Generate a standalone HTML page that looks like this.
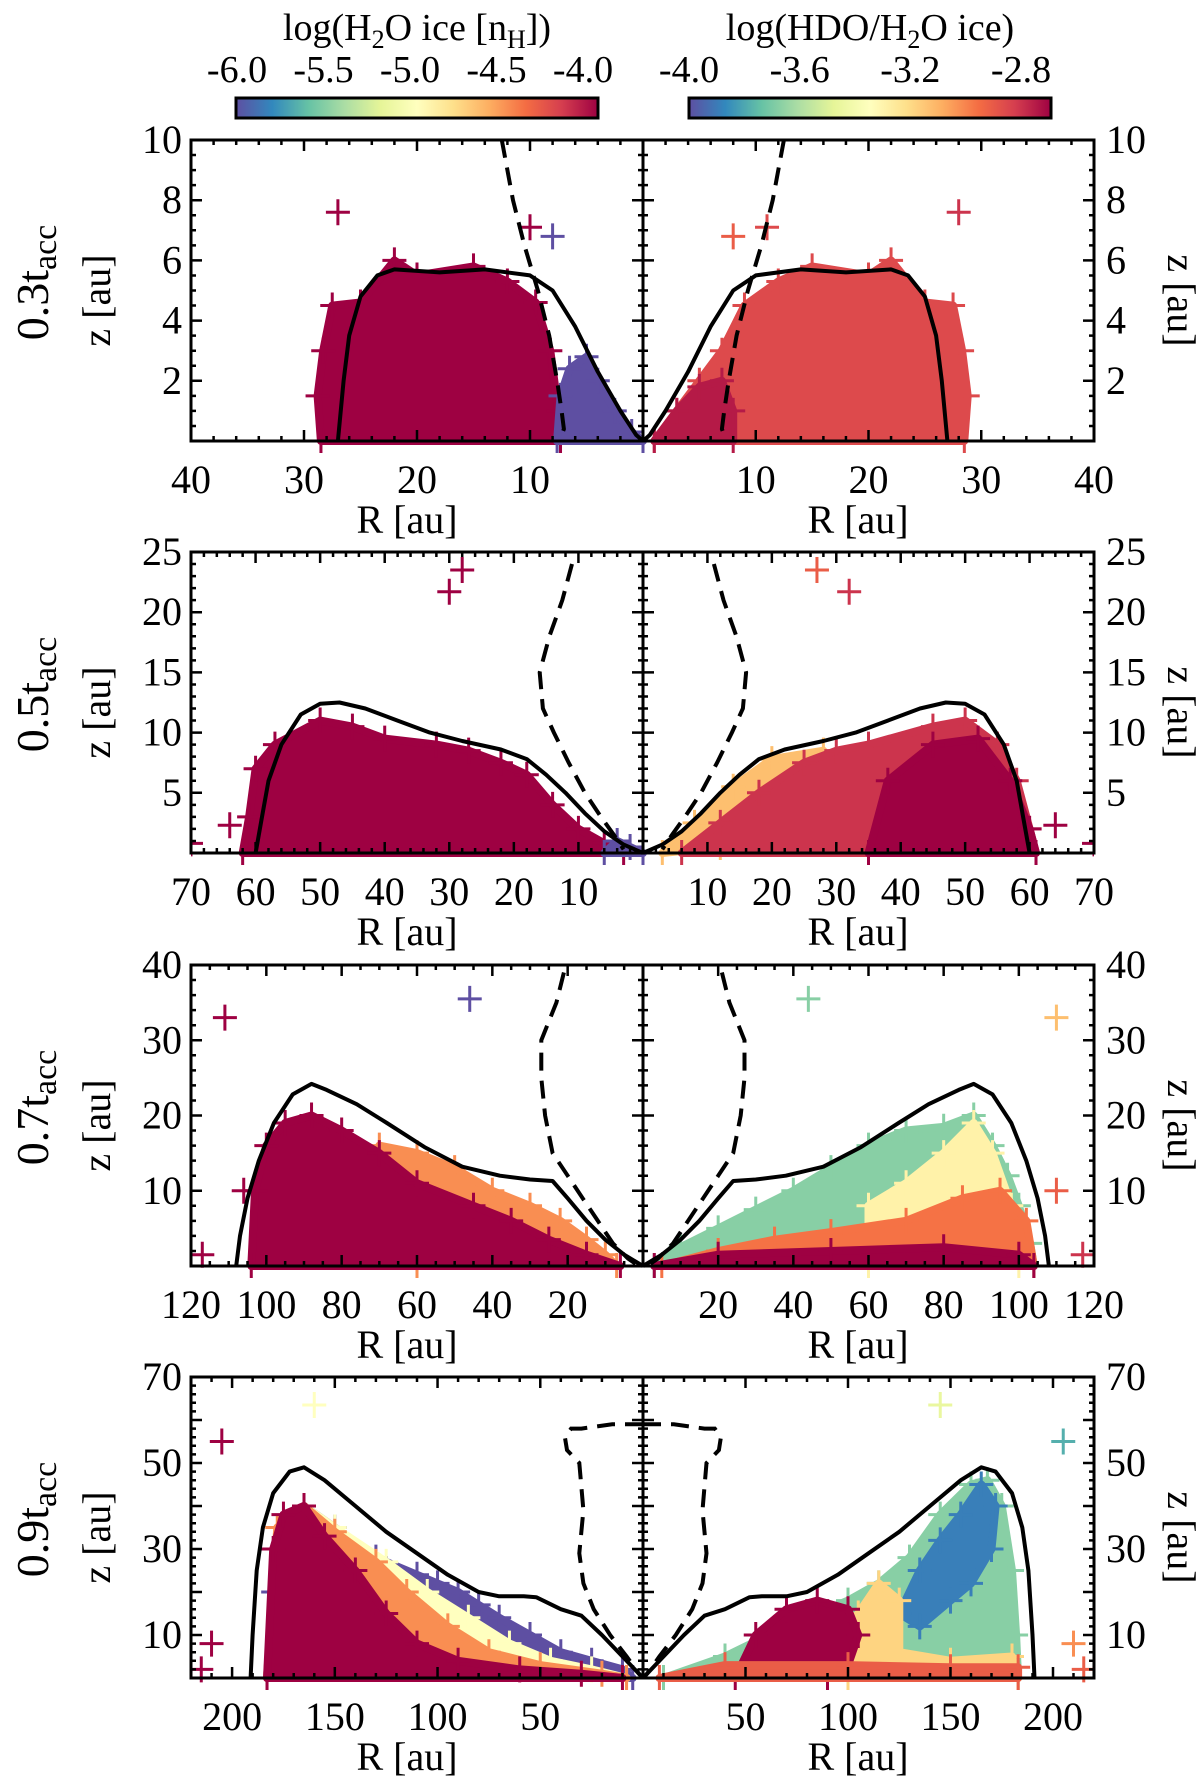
<!DOCTYPE html>
<html><head><meta charset="utf-8">
<style>
html,body{margin:0;padding:0;background:#fff;}
svg{display:block;font-family:"Liberation Serif",serif;}
</style></head>
<body>
<svg id="fig" width="1200" height="1784" viewBox="0 0 1200 1784" xmlns="http://www.w3.org/2000/svg">
  <defs>
    <linearGradient id="spec" x1="0" x2="1" y1="0" y2="0">
      <stop offset="0" stop-color="#5e4fa2"/><stop offset="0.1" stop-color="#3288bd"/>
      <stop offset="0.2" stop-color="#66c2a5"/><stop offset="0.3" stop-color="#abdda4"/>
      <stop offset="0.4" stop-color="#e6f598"/><stop offset="0.5" stop-color="#ffffbf"/>
      <stop offset="0.6" stop-color="#fee08b"/><stop offset="0.7" stop-color="#fdae61"/>
      <stop offset="0.8" stop-color="#f46d43"/><stop offset="0.9" stop-color="#d53e4f"/>
      <stop offset="1" stop-color="#9e0142"/>
    </linearGradient>
  </defs>
  <g>
    <text x="417" y="40" font-size="38" text-anchor="middle">log(H<tspan font-size="26" dy="8">2</tspan><tspan dy="-8">O ice [n</tspan><tspan font-size="26" dy="8">H</tspan><tspan dy="-8">])</tspan></text>
    <rect x="236" y="98" width="362" height="20" fill="url(#spec)" stroke="#000" stroke-width="3"/>
  </g>
  <g>
    <text x="870" y="40" font-size="38" text-anchor="middle">log(HDO/H<tspan font-size="26" dy="8">2</tspan><tspan dy="-8">O ice)</tspan></text>
    <rect x="689" y="98" width="362" height="20" fill="url(#spec)" stroke="#000" stroke-width="3"/>
  </g>
  <g id="cbticks"></g>
  <g id="panels"></g>
</svg>
<script>
// ---------- colorbar tick labels ----------
const cbLeftTicks = ["-6.0","-5.5","-5.0","-4.5","-4.0"];
const cbLeftVals = [-6.0,-5.5,-5.0,-4.5,-4.0];
const cbRightTicks = ["-4.0","-3.6","-3.2","-2.8"];
const cbRightVals = [-4.0,-3.6,-3.2,-2.8];

// ---------- panel meta ----------
const panelLabels = ["0.3","0.5","0.7","0.9"];
const panelXMax = [40,70,120,220];
const panelYMax = [10,25,40,70];
const xTickVals1 = [40,30,20,10];
const xTickVals2 = [70,60,50,40,30,20,10];
const xTickVals3 = [120,100,80,60,40,20];
const xTickVals4 = [200,150,100,50];
const yTickVals1 = [2,4,6,8,10];
const yTickVals2 = [5,10,15,20,25];
const yTickVals3 = [10,20,30,40];
const yTickVals4 = [10,30,50,70];

// ---------- curves [R, z] ----------
const solid1 = [[27,0],[26.5,2],[26,3.5],[25,4.8],[23.5,5.5],[22,5.7],[18,5.6],[14,5.7],[10,5.5],[8,5],[6,3.8],[4,2.3],[2,1],[0.6,0.2],[0,0]];
const dashed1 = [[12.5,10],[11.5,8],[10.5,6.5],[9.3,5],[8.3,3.5],[7.6,2],[7.2,1],[7,0.4],[7.4,0]];
const solid2 = [[60,0],[59,3],[58,6],[56,9],[53,11.5],[50,12.4],[47,12.5],[43,12],[38,11],[33,10],[28,9.3],[22,8.6],[18,7.8],[15,6.5],[12,5],[9,3.3],[6,1.8],[3,0.7],[0,0]];
const dashed2 = [[11,24],[12.5,21],[14.5,18],[16,15],[15.5,12],[13.8,10],[11.5,7.5],[9,5],[6.5,3],[4.5,1.5],[3,0.3]];
const solid3 = [[108,0],[107,4],[105,9],[102,14],[98,19],[93,22.8],[88,24.2],[84,23.4],[76,21.5],[68,19],[58,15.8],[48,13.2],[38,12],[30,11.5],[24,11.3],[20,9],[15,6],[10,3.5],[5,1.5],[0,0]];
const dashed3 = [[21,39],[23,35],[27,30],[27,25],[26,20],[24,15],[20,12],[16,9],[12,6],[8,3],[4,1],[2,0.3]];
const solid4 = [[191,0],[190,10],[188,25],[185,35],[180,43],[172,48],[165,49],[155,46],[140,40],[125,34],[110,29],[95,24],[80,20],[70,19],[58,19],[52,18.8],[40,16],[30,14.5],[20,10],[10,5],[0,0]];
const dashed4 = [[0,59],[15,59],[30,58],[35,58],[38,56],[37,53],[31,50],[29,39],[31,29],[29,22],[24,16],[16,10],[8,5],[2,1],[0,0]];

// ---------- clouds: [value, [[R,z],...]] ----------
const cloudsL1 = [
  [-4.0, [[28.5,0],[28.8,1.5],[28.3,3],[27.5,4.5],[25,4.6],[22,6],[20,5.5],[15,5.8],[12,5.3],[9.5,4.6],[8.2,3],[7.5,1],[7.3,0]]],
  [-6.0, [[7.6,0],[7.3,1.5],[6.5,2.4],[5,2.8],[4,2],[2.5,1],[1,0.3],[0,0]]]
];
const cloudsR1 = [
  [-2.95, [[1,0],[3,1],[5,2],[7,3],[9,4.5],[12,5.3],[15,5.8],[20,5.5],[22,6],[25,4.6],[27.5,4.5],[28.3,3],[28.8,1.5],[28.5,0]]],
  [-2.85, [[1,0],[3,1],[5,1.8],[7,2],[8,1],[8,0]]]
];
const cloudsL2 = [
  [-4.0, [[62,0],[61,3],[60,7],[57,9],[50,11],[45,10.5],[40,9.5],[32,9],[27,8.5],[22,7.5],[18,6.5],[14,4],[10,2],[6,0.8],[3,0]]],
  [-6.0, [[6,0],[4,1],[2,0.5],[0,0]]]
];
const cloudsR2 = [
  [-3.2, [[3,0],[8,2.5],[14,5.5],[20,7.8],[28,8.5],[28,3],[12,0.5]]],
  [-2.9, [[6,0],[12,2.5],[18,5],[25,7.5],[30,8.5],[35,9],[45,10.5],[50,11],[55,9],[58,6],[60,2],[61,0]]],
  [-2.8, [[35,0],[38,6],[45,9],[52,9.5],[57,6],[60,2],[61,0]]]
];
const cloudsL3 = [
  [-4.5, [[70,16],[60,15],[50,13],[40,10],[30,8],[22,6],[15,3.5],[10,1.5],[7,0],[60,0]]],
  [-4.0, [[104,0],[103,10],[100,16],[95,19],[88,20],[80,18],[70,15],[60,11],[45,8],[35,6],[25,3.5],[15,1.5],[6,0]]]
];
const cloudsR3 = [
  [-3.7, [[3,0],[10,2.5],[20,5],[30,7.5],[40,10],[50,13],[60,16],[70,18],[80,18.5],[88,20],[93,16],[97,12],[100,8],[103,3],[104,0]]],
  [-3.35, [[60,8],[70,11],[80,15],[88,19],[93,15],[98,8],[100,3],[100,0],[60,0]]],
  [-3.05, [[5,0],[20,2],[35,3.5],[50,4.5],[70,6],[85,9],[95,10],[102,6],[104,0]]],
  [-2.8, [[3,0],[20,1.5],[50,2],[80,2.5],[100,1.5],[104,0]]]
];
const cloudsL4 = [
  [-6.0, [[183,0],[180,20],[175,35],[165,40],[150,35],[130,28],[110,24],[100,22],[90,20],[80,17],[70,14],[55,10],[40,6],[25,4],[10,2],[5,0]]],
  [-5.0, [[183,0],[178,35],[165,40],[150,35],[125,27],[105,20],[85,14],[65,8],[45,4],[25,2],[8,0]]],
  [-4.5, [[183,0],[178,35],[165,40],[150,34],[130,27],[115,20],[95,12],[75,6],[50,3],[20,1],[8,0]]],
  [-4.0, [[183,0],[180,30],[175,38],[165,40],[155,33],[140,25],[125,15],[110,8],[90,4],[60,2],[30,1],[10,0]]]
];
const cloudsR4 = [
  [-3.7, [[10,0],[40,5],[70,12],[100,18],[115,22],[130,28],[145,38],[160,45],[168,46],[175,40],[180,25],[182,10],[183,0]]],
  [-3.9, [[125,15],[135,25],[145,32],[155,38],[165,45],[172,40],[170,30],[160,22],[150,18],[135,12]]],
  [-3.25, [[100,0],[105,15],[115,22],[125,18],[125,6],[150,4],[180,5],[183,0]]],
  [-2.8, [[45,0],[55,10],[70,16],[85,18],[100,16],[105,10],[100,3],[90,0]]],
  [-3.0, [[8,0],[40,3],[100,3],[150,2.5],[183,2.5],[183,0]]]
];

// ---------- outlier crosses: [R, z, value] ----------
const outL1 = [[27,7.6,-4.0],[10,7.1,-4.0],[8,6.8,-6.0]];
const outR1 = [[8,6.8,-3.0],[11,7.1,-2.95],[28,7.6,-2.9]];
const outL2 = [[30,21.7,-4.0],[28,23.5,-4.0],[64,2.3,-4.0],[70,0.8,-4.0]];
const outR2 = [[27,23.5,-3.0],[32,21.7,-2.9],[64,2.3,-2.8],[70,0.8,-2.8]];
const outL3 = [[111,33,-4.0],[46,35.5,-6.0],[117,1.5,-4.0],[106,10,-4.0]];
const outR3 = [[44,35.5,-3.7],[110,33,-3.2],[117,1.5,-2.9],[110,10,-3.0]];
const outL4 = [[205,55,-4.0],[160,63.5,-5.0],[210,8,-4.0],[215,2,-4.0]];
const outR4 = [[145,63.5,-3.5],[205,55,-3.8],[210,8,-3.1],[215,2,-3.0]];

// ---------- geometry ----------
const NS = "http://www.w3.org/2000/svg";
const AX_L = 191, AX_C = 643, AX_R = 1094, PH = 301;
const panelTops = [140, 552, 965, 1377];
const specStops = ["#5e4fa2","#3288bd","#66c2a5","#abdda4","#e6f598","#ffffbf","#fee08b","#fdae61","#f46d43","#d53e4f","#9e0142"];

function hexToRgb(h){return [parseInt(h.substr(1,2),16),parseInt(h.substr(3,2),16),parseInt(h.substr(5,2),16)];}
function cmap(t){
  t=Math.max(0,Math.min(1,t));
  const f=t*(specStops.length-1), i=Math.min(Math.floor(f),specStops.length-2), u=f-i;
  const a=hexToRgb(specStops[i]), b=hexToRgb(specStops[i+1]);
  return "rgb("+[0,1,2].map(k=>Math.round(a[k]+(b[k]-a[k])*u)).join(",")+")";
}
function colL(v){return cmap((v+6)/2);}
function colR(v){return cmap((v+4)/1.2);}
function mk(tag, attrs, parent){
  const e=document.createElementNS(NS,tag);
  for(const k in attrs) e.setAttribute(k, attrs[k]);
  parent.appendChild(e); return e;
}

// colorbar ticks
const cbg=document.getElementById('cbticks');
cbLeftVals.forEach((v,i)=>{
  const t=mk('text',{x:237+(v+6)/2*346,y:82,'font-size':38,'text-anchor':'middle'},cbg);
  
  
  t.textContent=cbLeftTicks[i];
});
cbRightVals.forEach((v,i)=>{
  const t=mk('text',{x:689+(v+4)/1.2*332,y:82,'font-size':38,'text-anchor':'middle'},cbg);
  
  
  t.textContent=cbRightTicks[i];
});

const allSolid=[solid1,solid2,solid3,solid4];
const allDashed=[dashed1,dashed2,dashed3,dashed4];
const allCL=[cloudsL1,cloudsL2,cloudsL3,cloudsL4];
const allCR=[cloudsR1,cloudsR2,cloudsR3,cloudsR4];
const allOL=[outL1,outL2,outL3,outL4];
const allOR=[outR1,outR2,outR3,outR4];
const allXT=[xTickVals1,xTickVals2,xTickVals3,xTickVals4];
const allYT=[yTickVals1,yTickVals2,yTickVals3,yTickVals4];
const yMinorStep=[0.5,1,2,2];
const xMinorStep=[2,2,5,10];
const yMajorStep=[2,5,10,10];

const root=document.getElementById('panels');
for(let p=0;p<4;p++){
  const top=panelTops[p], bot=top+PH, xm=panelXMax[p], ym=panelYMax[p];
  const sxL=R=>AX_C-R*(AX_C-AX_L)/xm;
  const sxR=R=>AX_C+R*(AX_R-AX_C)/xm;
  const sy=z=>bot-z*PH/ym;
  const g=mk('g',{},root);
  
  
  const clipId='clip'+p;
  const cp=mk('clipPath',{id:clipId},g);
  mk('rect',{x:AX_L,y:top,width:AX_R-AX_L,height:PH+12},cp);
  const data=mk('g',{'clip-path':'url(#'+clipId+')'},g);
  // clouds
  [[allCL[p],sxL,colL,'left'],[allCR[p],sxR,colR,'right']].forEach(([cl,sx,cf,side])=>{
    cl.forEach(c=>{
      const pts=c[1].map(q=>sx(q[0]).toFixed(1)+","+sy(q[1]).toFixed(1)).join(" ");
      const poly=mk('polygon',{points:pts,fill:cf(c[0]),stroke:cf(c[0]),'stroke-width':8,'stroke-linejoin':'round'},data);
      
      
      // fuzzy edge crosses at each vertex
      let d='';
      c[1].forEach(q=>{const x=sx(q[0]),y=sy(q[1]);d+=`M${x-12},${y}H${x+12}M${x},${y-13}V${y+13}`;});
      const fz=mk('path',{d:d,stroke:cf(c[0]),'stroke-width':3,fill:'none'},data);
      
      
    });
  });
  // outliers
  [[allOL[p],sxL,colL,'left'],[allOR[p],sxR,colR,'right']].forEach(([ol,sx,cf,side])=>{
    ol.forEach(o=>{
      const x=sx(o[0]), y=sy(o[1]);
      const c=mk('path',{d:`M${x-12},${y}H${x+12}M${x},${y-13}V${y+13}`,stroke:cf(o[2]),'stroke-width':3,fill:'none'},data);
      
      
    });
  });
  // curves
  [sxL,sxR].forEach((sx,si)=>{
    const side=si?'right':'left';
    const s=mk('polyline',{points:allSolid[p].map(q=>sx(q[0]).toFixed(1)+","+sy(q[1]).toFixed(1)).join(" "),fill:'none',stroke:'#000','stroke-width':4,'stroke-linejoin':'round'},data);
    
    
    const d=mk('polyline',{points:allDashed[p].map(q=>sx(q[0]).toFixed(1)+","+sy(q[1]).toFixed(1)).join(" "),fill:'none',stroke:'#000','stroke-width':4,'stroke-dasharray':'18,10'},data);
    
    
  });
  // frame
  const fr=mk('rect',{x:AX_L,y:top,width:AX_R-AX_L,height:PH,fill:'none',stroke:'#000','stroke-width':3},g);
  
  
  const cl=mk('line',{x1:AX_C,x2:AX_C,y1:top,y2:bot,stroke:'#000','stroke-width':3},g);
  
  
  // ticks
  let td='';
  for(let z=yMinorStep[p]; z<ym-1e-6; z+=yMinorStep[p]){
    const maj=Math.abs(z/yMajorStep[p]-Math.round(z/yMajorStep[p]))<1e-6;
    const L=maj?11:5, y=sy(z);
    td+=`M${AX_L},${y}h${L}M${AX_R},${y}h${-L}M${AX_C-L},${y}h${2*L}`;
  }
  for(let R=xMinorStep[p]; R<xm-1e-6; R+=xMinorStep[p]){
    const maj=Math.abs(R/allXT[p][allXT[p].length-1]-Math.round(R/allXT[p][allXT[p].length-1]))<1e-6;
    const L=maj?11:5;
    [sxL(R),sxR(R)].forEach(x=>{td+=`M${x},${bot}v${-L}M${x},${top}v${L}`;});
  }
  const tk=mk('path',{d:td,stroke:'#000','stroke-width':2.5,fill:'none'},g);
  
  
  // y tick labels
  allYT[p].forEach(z=>{
    const a=mk('text',{x:182,y:sy(z)+13,'font-size':40,'text-anchor':'end'},g);
    
    
    a.textContent=z;
    const b=mk('text',{x:1106,y:sy(z)+13,'font-size':40,'text-anchor':'start'},g);
    
    
    b.textContent=z;
  });
  // x tick labels
  allXT[p].forEach(R=>{
    [sxL(R),sxR(R)].forEach(x=>{
      const a=mk('text',{x:x,y:bot+52,'font-size':40,'text-anchor':'middle'},g);
      
      
      a.textContent=R;
    });
  });
  [407,858].forEach(x=>{
    const a=mk('text',{x:x,y:bot+92,'font-size':40,'text-anchor':'middle'},g);
    
    
    a.textContent='R [au]';
  });
  // y titles
  const mid=(top+bot)/2;
  const yl=mk('text',{x:0,y:0,'font-size':40,'text-anchor':'middle',transform:`translate(110,${mid+10}) rotate(-90)`},g);
  
  
  yl.textContent='z [au]';
  const yr=mk('text',{x:0,y:0,'font-size':40,'text-anchor':'middle',transform:`translate(1168,${mid+10}) rotate(90)`},g);
  
  
  yr.textContent='z [au]';
  const pl=mk('text',{x:0,y:0,'font-size':46,'text-anchor':'middle',transform:`translate(48,${mid-8}) rotate(-90)`},g);
  
  
  pl.innerHTML=panelLabels[p]+'t<tspan font-size="34" dy="8">acc</tspan>';
}
</script>
</body></html>
